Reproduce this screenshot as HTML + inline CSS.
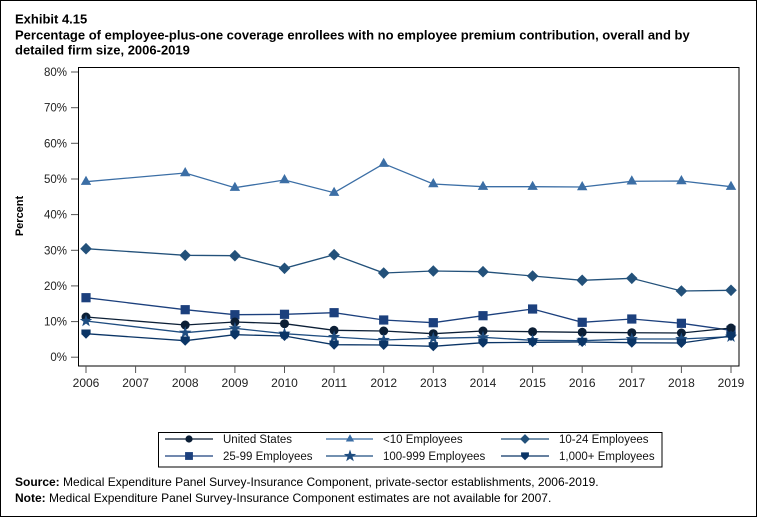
<!DOCTYPE html>
<html><head><meta charset="utf-8"><style>
html,body{margin:0;padding:0;background:#fff;}
svg{display:block;font-family:"Liberation Sans",Arial,sans-serif;}
</style></head><body>
<svg width="758" height="518" viewBox="0 0 758 518" xmlns="http://www.w3.org/2000/svg">
<defs>
<circle id="mc" r="4.5"/>
<path id="mt" d="M0,-6 L5.2,3.2 L-5.2,3.2 Z"/>
<path id="md" d="M0,-5.8 L5.8,0 L0,5.8 L-5.8,0 Z"/>
<rect id="ms" x="-4.6" y="-4.6" width="9.2" height="9.2"/>
<path id="mst" d="M0,-6.5 L1.5,-2.1 L6.2,-2 L2.5,0.8 L3.8,5.3 L0,2.6 L-3.8,5.3 L-2.5,0.8 L-6.2,-2 L-1.5,-2.1 Z"/>
<path id="mh" d="M-4.6,-4.2 L4.6,-4.2 L4.6,0.4 L0,5 L-4.6,0.4 Z"/>
</defs>
<rect x="0.5" y="0.5" width="756" height="516" fill="#fff" stroke="#000" stroke-width="1"/>
<g font-weight="bold" font-size="13" fill="#000">
<text x="15" y="23.5">Exhibit 4.15</text>
<text x="15" y="39.5">Percentage of employee-plus-one coverage enrollees with no employee premium contribution, overall and by</text>
<text x="15" y="54.7">detailed firm size, 2006-2019</text>
</g>
<!-- plot frame -->
<rect x="78.5" y="67.5" width="660.5" height="298.5" fill="none" stroke="#000" stroke-width="1"/>
<!-- y ticks -->
<g stroke="#555" stroke-width="1">
<line x1="71" y1="72" x2="78" y2="72"/>
<line x1="71" y1="107.7" x2="78" y2="107.7"/>
<line x1="71" y1="143.3" x2="78" y2="143.3"/>
<line x1="71" y1="179" x2="78" y2="179"/>
<line x1="71" y1="214.6" x2="78" y2="214.6"/>
<line x1="71" y1="250.3" x2="78" y2="250.3"/>
<line x1="71" y1="285.9" x2="78" y2="285.9"/>
<line x1="71" y1="321.6" x2="78" y2="321.6"/>
<line x1="71" y1="357.2" x2="78" y2="357.2"/>
</g>
<g font-size="11.5" fill="#222" text-anchor="end">
<text x="67" y="76">80%</text>
<text x="67" y="111.7">70%</text>
<text x="67" y="147.3">60%</text>
<text x="67" y="183">50%</text>
<text x="67" y="218.6">40%</text>
<text x="67" y="254.3">30%</text>
<text x="67" y="289.9">20%</text>
<text x="67" y="325.6">10%</text>
<text x="67" y="361.2">0%</text>
</g>
<text transform="translate(23,216) rotate(-90)" text-anchor="middle" font-size="11" font-weight="bold" fill="#000">Percent</text>
<!-- x ticks -->
<g stroke="#555" stroke-width="1">
<line x1="86" y1="366" x2="86" y2="373"/>
<line x1="135.6" y1="366" x2="135.6" y2="373"/>
<line x1="185.2" y1="366" x2="185.2" y2="373"/>
<line x1="234.9" y1="366" x2="234.9" y2="373"/>
<line x1="284.5" y1="366" x2="284.5" y2="373"/>
<line x1="334.1" y1="366" x2="334.1" y2="373"/>
<line x1="383.7" y1="366" x2="383.7" y2="373"/>
<line x1="433.3" y1="366" x2="433.3" y2="373"/>
<line x1="483" y1="366" x2="483" y2="373"/>
<line x1="532.6" y1="366" x2="532.6" y2="373"/>
<line x1="582.2" y1="366" x2="582.2" y2="373"/>
<line x1="631.8" y1="366" x2="631.8" y2="373"/>
<line x1="681.4" y1="366" x2="681.4" y2="373"/>
<line x1="731" y1="366" x2="731" y2="373"/>
</g>
<g font-size="12" fill="#222" text-anchor="middle">
<text x="86" y="387">2006</text>
<text x="135.6" y="387">2007</text>
<text x="185.2" y="387">2008</text>
<text x="234.9" y="387">2009</text>
<text x="284.5" y="387">2010</text>
<text x="334.1" y="387">2011</text>
<text x="383.7" y="387">2012</text>
<text x="433.3" y="387">2013</text>
<text x="483" y="387">2014</text>
<text x="532.6" y="387">2015</text>
<text x="582.2" y="387">2016</text>
<text x="631.8" y="387">2017</text>
<text x="681.4" y="387">2018</text>
<text x="731" y="387">2019</text>
</g>
<!-- <10 Employees -->
<g fill="#3b6ea5" stroke="#3b6ea5">
<polyline fill="none" stroke-width="1.3" points="86,181.7 185.2,173 234.9,187.7 284.5,180 334.1,192.7 383.7,163.7 433.3,184 483,186.7 532.6,186.7 582.2,187 631.8,181.3 681.4,181 731,186.7"/>
<g stroke="none">
<use href="#mt" x="86" y="181.7"/><use href="#mt" x="185.2" y="173"/><use href="#mt" x="234.9" y="187.7"/><use href="#mt" x="284.5" y="180"/><use href="#mt" x="334.1" y="192.7"/><use href="#mt" x="383.7" y="163.7"/><use href="#mt" x="433.3" y="184"/><use href="#mt" x="483" y="186.7"/><use href="#mt" x="532.6" y="186.7"/><use href="#mt" x="582.2" y="187"/><use href="#mt" x="631.8" y="181.3"/><use href="#mt" x="681.4" y="181"/><use href="#mt" x="731" y="186.7"/>
</g></g>
<!-- 10-24 -->
<g fill="#23517a" stroke="#23517a">
<polyline fill="none" stroke-width="1.3" points="86,248.7 185.2,255.3 234.9,255.7 284.5,268.3 334.1,254.7 383.7,273 433.3,271 483,271.7 532.6,276 582.2,280.3 631.8,278.3 681.4,291 731,290.3"/>
<g stroke="none">
<use href="#md" x="86" y="248.7"/><use href="#md" x="185.2" y="255.3"/><use href="#md" x="234.9" y="255.7"/><use href="#md" x="284.5" y="268.3"/><use href="#md" x="334.1" y="254.7"/><use href="#md" x="383.7" y="273"/><use href="#md" x="433.3" y="271"/><use href="#md" x="483" y="271.7"/><use href="#md" x="532.6" y="276"/><use href="#md" x="582.2" y="280.3"/><use href="#md" x="631.8" y="278.3"/><use href="#md" x="681.4" y="291"/><use href="#md" x="731" y="290.3"/>
</g></g>
<!-- 25-99 -->
<g fill="#1c407d" stroke="#1c407d">
<polyline fill="none" stroke-width="1.3" points="86,297.7 185.2,309.7 234.9,314.7 284.5,314.3 334.1,312.7 383.7,320 433.3,322.7 483,315.7 532.6,309 582.2,322.3 631.8,319 681.4,323.3 731,330.3"/>
<g stroke="none">
<use href="#ms" x="86" y="297.7"/><use href="#ms" x="185.2" y="309.7"/><use href="#ms" x="234.9" y="314.7"/><use href="#ms" x="284.5" y="314.3"/><use href="#ms" x="334.1" y="312.7"/><use href="#ms" x="383.7" y="320"/><use href="#ms" x="433.3" y="322.7"/><use href="#ms" x="483" y="315.7"/><use href="#ms" x="532.6" y="309"/><use href="#ms" x="582.2" y="322.3"/><use href="#ms" x="631.8" y="319"/><use href="#ms" x="681.4" y="323.3"/><use href="#ms" x="731" y="330.3"/>
</g></g>
<!-- United States -->
<g fill="#0c1f36" stroke="#0c1f36">
<polyline fill="none" stroke-width="1.3" points="86,317 185.2,325 234.9,322 284.5,323.7 334.1,330.3 383.7,331 433.3,333.7 483,331 532.6,331.7 582.2,332.3 631.8,332.7 681.4,333 731,328"/>
<g stroke="none">
<use href="#mc" x="86" y="317"/><use href="#mc" x="185.2" y="325"/><use href="#mc" x="234.9" y="322"/><use href="#mc" x="284.5" y="323.7"/><use href="#mc" x="334.1" y="330.3"/><use href="#mc" x="383.7" y="331"/><use href="#mc" x="433.3" y="333.7"/><use href="#mc" x="483" y="331"/><use href="#mc" x="532.6" y="331.7"/><use href="#mc" x="582.2" y="332.3"/><use href="#mc" x="631.8" y="332.7"/><use href="#mc" x="681.4" y="333"/><use href="#mc" x="731" y="328"/>
</g></g>
<!-- 100-999 -->
<g fill="#1f4d80" stroke="#1f4d80">
<polyline fill="none" stroke-width="1.3" points="86,321 185.2,332.7 234.9,328.3 284.5,333.7 334.1,337 383.7,340 433.3,338.3 483,337.3 532.6,340.3 582.2,340.7 631.8,339 681.4,339 731,336.7"/>
<g stroke="none">
<use href="#mst" x="86" y="321"/><use href="#mst" x="185.2" y="332.7"/><use href="#mst" x="234.9" y="328.3"/><use href="#mst" x="284.5" y="333.7"/><use href="#mst" x="334.1" y="337"/><use href="#mst" x="383.7" y="340"/><use href="#mst" x="433.3" y="338.3"/><use href="#mst" x="483" y="337.3"/><use href="#mst" x="532.6" y="340.3"/><use href="#mst" x="582.2" y="340.7"/><use href="#mst" x="631.8" y="339"/><use href="#mst" x="681.4" y="339"/><use href="#mst" x="731" y="336.7"/>
</g></g>
<!-- 1000+ -->
<g fill="#0b3566" stroke="#0b3566">
<polyline fill="none" stroke-width="1.3" points="86,333.7 185.2,340.7 234.9,334.7 284.5,336 334.1,344.7 383.7,345 433.3,346.3 483,342.7 532.6,342.3 582.2,342 631.8,342.7 681.4,343 731,336"/>
<g stroke="none">
<use href="#mh" x="86" y="333.7"/><use href="#mh" x="185.2" y="340.7"/><use href="#mh" x="234.9" y="334.7"/><use href="#mh" x="284.5" y="336"/><use href="#mh" x="334.1" y="344.7"/><use href="#mh" x="383.7" y="345"/><use href="#mh" x="433.3" y="346.3"/><use href="#mh" x="483" y="342.7"/><use href="#mh" x="532.6" y="342.3"/><use href="#mh" x="582.2" y="342"/><use href="#mh" x="631.8" y="342.7"/><use href="#mh" x="681.4" y="343"/><use href="#mh" x="731" y="336"/>
</g></g>
<!-- legend -->
<rect x="158.5" y="432.5" width="503.5" height="34.5" fill="#fff" stroke="#000" stroke-width="1"/>
<g stroke-width="1.3">
<line x1="165" y1="439" x2="213" y2="439" stroke="#0c1f36"/>
<use href="#mc" x="189" y="439" fill="#0c1f36" transform="translate(189,439) scale(0.8) translate(-189,-439)"/>
<line x1="326" y1="439" x2="373" y2="439" stroke="#3b6ea5"/>
<use href="#mt" x="350" y="439" fill="#3b6ea5" transform="translate(350,439) scale(0.8) translate(-350,-439)"/>
<line x1="501" y1="439" x2="549" y2="439" stroke="#23517a"/>
<use href="#md" x="525" y="439" fill="#23517a" transform="translate(525,439) scale(0.85) translate(-525,-439)"/>
<line x1="165" y1="456" x2="213" y2="456" stroke="#1c407d"/>
<use href="#ms" x="189" y="456" fill="#1c407d" transform="translate(189,456) scale(0.85) translate(-189,-456)"/>
<line x1="326" y1="456" x2="373" y2="456" stroke="#1f4d80"/>
<use href="#mst" x="350" y="456" fill="#1f4d80"/>
<line x1="501" y1="456" x2="549" y2="456" stroke="#0b3566"/>
<use href="#mh" x="525" y="456" fill="#0b3566" transform="translate(525,456) scale(0.85) translate(-525,-456)"/>
</g>
<g font-size="11.5" fill="#111">
<text x="223" y="443">United States</text>
<text x="383" y="443">&lt;10 Employees</text>
<text x="559" y="443">10-24 Employees</text>
<text x="223" y="460">25-99 Employees</text>
<text x="383" y="460">100-999 Employees</text>
<text x="559" y="460">1,000+ Employees</text>
</g>
<!-- footer -->
<g font-size="12" fill="#000">
<text x="15" y="486"><tspan font-weight="bold">Source:</tspan> Medical Expenditure Panel Survey-Insurance Component, private-sector establishments, 2006-2019.</text>
<text x="15" y="502"><tspan font-weight="bold">Note:</tspan> Medical Expenditure Panel Survey-Insurance Component estimates are not available for 2007.</text>
</g>
</svg>
</body></html>
